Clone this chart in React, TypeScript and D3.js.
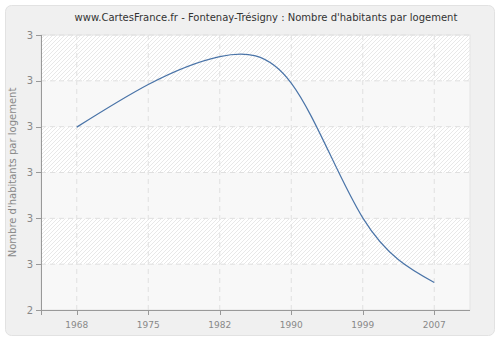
import React from "react";
import * as d3 from "d3";

const years = ["1968", "1975", "1982", "1990", "1999", "2007"];
const values = [2.799, 2.892, 2.953, 2.895, 2.601, 2.46];
const yTicks = [2.4, 2.5, 2.6, 2.7, 2.8, 2.9, 3.0];
const yTickLabels = ["2", "3", "3", "3", "3", "3", "3"];

const W = 500, H = 340;
const M = { left: 41, right: 470, top: 35, bottom: 310 };
const FONT = "DejaVu Sans, Verdana, sans-serif";

export default function App() {
  const x = d3.scalePoint<string>().domain(years).range([M.left, M.right]).padding(0.5);
  const y = d3.scaleLinear().domain([2.4, 3.0]).range([M.bottom, M.top]);
  const line = d3
    .line<number>()
    .x((_, i) => x(years[i])!)
    .y((d) => y(d))
    .curve(d3.curveNatural);
  const bands = d3.range(yTicks.length - 1);
  return (
    <svg width={W} height={H} style={{ position: "absolute", left: 0, top: 0 }}>
      <defs>
        <pattern id="hatch" width="4" height="4" patternUnits="userSpaceOnUse">
          <rect width="4" height="4" fill="#ffffff" />
          <path d="M-1,1 l2,-2 M0,4 l4,-4 M3,5 l2,-2" stroke="#e8e8e8" strokeWidth="1" />
        </pattern>
      </defs>
      <rect x={5.5} y={5.5} width={489} height={330} rx={6} fill="#f0f0f0" stroke="#e2e2e2" />
      <text x={266} y={21} textAnchor="middle" fontFamily={FONT} fontSize={10} fill="#333">
        www.CartesFrance.fr - Fontenay-Trésigny : Nombre d'habitants par logement
      </text>
      {bands.map((i) => (
        <rect
          key={i}
          x={M.left}
          y={y(yTicks[i + 1])}
          width={M.right - M.left}
          height={y(yTicks[i]) - y(yTicks[i + 1])}
          fill={i % 2 === 1 ? "url(#hatch)" : "#f8f8f8"}
        />
      ))}
      <rect x={M.left} y={M.top} width={M.right - M.left} height={M.bottom - M.top} fill="none" stroke="#e4e4e4" />
      {yTicks.slice(1).map((t) => (
        <line key={t} x1={M.left} x2={M.right} y1={y(t)} y2={y(t)} stroke="#e0e0e0" strokeDasharray="5,4" />
      ))}
      {years.map((yr) => (
        <line key={yr} x1={x(yr)} x2={x(yr)} y1={M.top} y2={M.bottom} stroke="#e0e0e0" strokeDasharray="5,4" />
      ))}
      <path d={line(values)!} fill="none" stroke="#4a74a8" strokeWidth={1.2} />
      <line x1={M.left - 5} x2={M.right} y1={M.bottom + 0.5} y2={M.bottom + 0.5} stroke="#999" />
      <line x1={M.left + 0.5} x2={M.left + 0.5} y1={M.top} y2={M.bottom + 5} stroke="#999" />
      {yTicks.map((t, i) => (
        <g key={t}>
          <line x1={M.left - 5} x2={M.left} y1={Math.round(y(t)) + 0.5} y2={Math.round(y(t)) + 0.5} stroke="#999" />
          <text x={M.left - 8} y={y(t) + 3.5} textAnchor="end" fontFamily={FONT} fontSize={10} fill="#888">
            {yTickLabels[i]}
          </text>
        </g>
      ))}
      {years.map((yr) => (
        <g key={yr}>
          <line x1={Math.round(x(yr)!) + 0.5} x2={Math.round(x(yr)!) + 0.5} y1={M.bottom} y2={M.bottom + 5} stroke="#999" />
          <text x={x(yr)} y={M.bottom + 18} textAnchor="middle" fontFamily={FONT} fontSize={9} fill="#888">
            {yr}
          </text>
        </g>
      ))}
      <text
        transform={`translate(16,${(M.top + M.bottom) / 2}) rotate(-90)`}
        textAnchor="middle"
        fontFamily={FONT}
        fontSize={10}
        fill="#888"
      >
        Nombre d'habitants par logement
      </text>
    </svg>
  );
}
